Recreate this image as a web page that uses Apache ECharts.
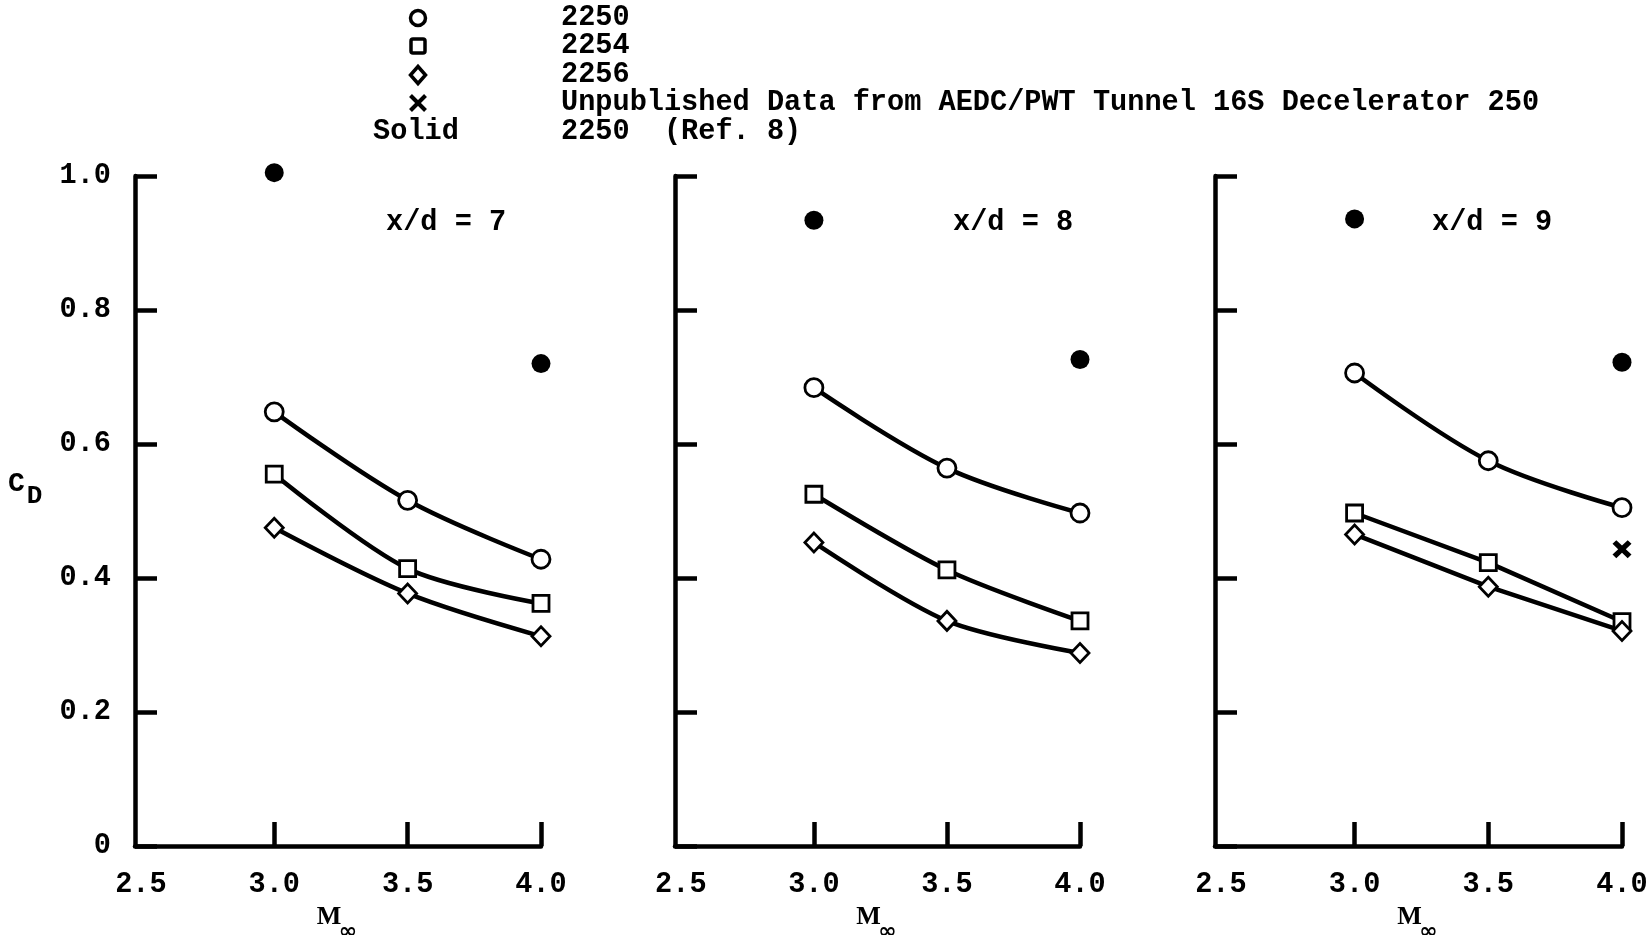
<!DOCTYPE html>
<html>
<head>
<meta charset="utf-8">
<script src="https://cdn.jsdelivr.net/npm/echarts@6/dist/echarts.min.js"></script>
<style>
html,body{margin:0;padding:0;background:#fff;}
#chart{width:1652px;height:935px;}
</style>
</head>
<body>
<div id="chart"></div>
<script>
// ---- data ----
const mach = [3.0, 3.5, 4.0];
const panelTitles = ['x/d = 7', 'x/d = 8', 'x/d = 9'];
const xTickValues = [2.5, 3.0, 3.5, 4.0];
const yTickValues = [0, 0.2, 0.4, 0.6, 0.8, 1.0];
const yTickLabels = ['0', '0.2', '0.4', '0.6', '0.8', '1.0'];

const cd2250 = [
  [0.648, 0.516, 0.428],
  [0.684, 0.564, 0.497],
  [0.706, 0.575, 0.505]
];
const cd2254 = [
  [0.555, 0.414, 0.362],
  [0.525, 0.412, 0.336],
  [0.497, 0.423, 0.335]
];
const cd2256 = [
  [0.475, 0.377, 0.313],
  [0.453, 0.336, 0.288],
  [0.465, 0.387, 0.321]
];
const ref8Mach = [3.0, 4.0];
const cdRef8 = [
  [1.005, 0.720],
  [0.934, 0.726],
  [0.936, 0.722]
];
const aedcMach = [4.0];
const cdAedc = [0.443];   // x/d = 9 only

const legendRows = [
  {sym: 'circle', label: '2250'},
  {sym: 'square', label: '2254'},
  {sym: 'diamond', label: '2256'},
  {sym: 'cross', label: 'Unpublished Data from AEDC/PWT Tunnel 16S Decelerator 250'},
  {sym: 'Solid', label: '2250  (Ref. 8)'}
];

// ---- style ----
const FONT = 'Liberation Mono';
const FS = 28.6;
const INK = '#000';
const crossPath = 'path://M0,4 L4,0 L10,6 L16,0 L20,4 L14,10 L20,16 L16,20 L10,14 L4,20 L0,16 L6,10 Z';

const grids = [
  {left: 135, width: 406, top: 176, height: 670, outerBoundsMode: 'none', containLabel: false},
  {left: 675, width: 405, top: 176, height: 670, outerBoundsMode: 'none', containLabel: false},
  {left: 1215, width: 407, top: 176, height: 670, outerBoundsMode: 'none', containLabel: false}
];

const zip = (xs, ys) => xs.map((x, i) => [x, ys[i]]);

const xAxes = grids.map((g, i) => ({
  type: 'value', gridIndex: i, min: 2.478, max: 4.0,
  axisLine: {show: true, lineStyle: {color: INK, width: 4.5}},
  axisTick: {show: true, inside: true, length: 24, lineStyle: {color: INK, width: 4.5},
    customValues: xTickValues.slice(1)},
  axisLabel: {show: true, margin: 24, color: INK, fontFamily: FONT, fontWeight: 'bold', fontSize: FS,
    customValues: xTickValues, formatter: v => v.toFixed(1)},
  splitLine: {show: false},
  name: '{m|M}\n{s|∞}', nameLocation: 'middle', nameGap: 47,
  nameTextStyle: {
    padding: [0, 18, 0, 0],
    rich: {
      m: {fontFamily: 'Liberation Serif', fontWeight: 'bold', fontSize: 26, color: INK, lineHeight: 20},
      s: {fontFamily: 'DejaVu Sans', fontWeight: 'bold', fontSize: 22, color: INK, lineHeight: 10, padding: [0, 0, 0, 38]}
    }
  }
}));

const yAxes = grids.map((g, i) => ({
  type: 'value', gridIndex: i, min: 0, max: 1.0,
  axisLine: {show: true, lineStyle: {color: INK, width: 4.5}},
  axisTick: {show: true, inside: true, length: 22, lineStyle: {color: INK, width: 4.5},
    customValues: yTickValues},
  axisLabel: {show: i === 0, margin: 24, color: INK, fontFamily: FONT, fontWeight: 'bold', fontSize: FS,
    customValues: yTickValues, formatter: v => yTickLabels[Math.round(v / 0.2)]},
  splitLine: {show: false}
}));

const lineSeries = (data, symbol, size, smooth, i) => ({
  type: 'line', xAxisIndex: i, yAxisIndex: i, data: data,
  smooth: smooth, symbol: symbol, symbolSize: size, showSymbol: true,
  lineStyle: {color: INK, width: 4.5},
  itemStyle: {color: '#fff', borderColor: INK, borderWidth: 2.8, opacity: 1},
  z: 3, animation: false
});

const series = [];
for (let i = 0; i < 3; i++) {
  series.push(lineSeries(zip(mach, cd2250[i]), 'circle', 18, 0.35, i));
  series.push(lineSeries(zip(mach, cd2254[i]), 'rect', 16, i === 2 ? false : 0.3, i));
  series.push(lineSeries(zip(mach, cd2256[i]), 'diamond', [18, 19], i === 2 ? false : 0.3, i));
  series.push({
    type: 'scatter', xAxisIndex: i, yAxisIndex: i, data: zip(ref8Mach, cdRef8[i]),
    symbol: 'circle', symbolSize: 19, itemStyle: {color: INK, opacity: 1}, clip: false, animation: false, z: 4
  });
}
series.push({
  type: 'scatter', xAxisIndex: 2, yAxisIndex: 2, data: zip(aedcMach, cdAedc),
  symbol: crossPath, symbolSize: [19, 18], itemStyle: {color: INK, opacity: 1}, clip: false, animation: false, z: 4
});

// panel titles
const titles = panelTitles.map((t, i) => ({
  text: t, left: [381, 948, 1427][i], top: 203,
  textStyle: {fontFamily: FONT, fontWeight: 'bold', fontSize: FS, color: INK}
}));

// legend block (graphic)
const legendGraphics = [];
const rowY = [18, 46, 75, 103, 132];
const symX = 418;
const legendFont = 'bold ' + FS + 'px "Liberation Mono"';
legendRows.forEach((r, k) => {
  const cy = rowY[k];
  if (r.sym === 'circle') {
    legendGraphics.push({type: 'circle', shape: {cx: symX, cy: cy, r: 7.5},
      style: {fill: '#fff', stroke: INK, lineWidth: 3.5}});
  } else if (r.sym === 'square') {
    legendGraphics.push({type: 'rect', shape: {x: symX - 7, y: cy - 7, width: 14, height: 14, r: 2},
      style: {fill: '#fff', stroke: INK, lineWidth: 3.5}});
  } else if (r.sym === 'diamond') {
    legendGraphics.push({type: 'polygon', shape: {points: [[symX, cy - 8.5], [symX + 7.5, cy], [symX, cy + 8.5], [symX - 7.5, cy]]},
      style: {fill: '#fff', stroke: INK, lineWidth: 3.5}});
  } else if (r.sym === 'cross') {
    legendGraphics.push({type: 'polyline', shape: {points: [[symX - 7.5, cy - 7.5], [symX + 7.5, cy + 7.5]]},
      style: {stroke: INK, lineWidth: 4}});
    legendGraphics.push({type: 'polyline', shape: {points: [[symX + 7.5, cy - 7.5], [symX - 7.5, cy + 7.5]]},
      style: {stroke: INK, lineWidth: 4}});
  } else {
    legendGraphics.push({type: 'text', x: 416, y: cy,
      style: {text: r.sym, font: legendFont, fill: INK, align: 'center', verticalAlign: 'middle'}});
  }
  legendGraphics.push({type: 'text', x: 561, y: cy,
    style: {text: r.label, font: legendFont, fill: INK, align: 'left', verticalAlign: 'middle'}});
});

// C_D axis label
legendGraphics.push({type: 'text', x: 8, y: 459,
  style: {text: '{c|C}{d|D}', fill: INK,
    rich: {c: {fontFamily: 'Liberation Mono', fontWeight: 'bold', fontSize: 28, color: INK},
           d: {fontFamily: 'Liberation Mono', fontWeight: 'bold', fontSize: 26, color: INK, padding: [24, 0, 0, 2]}}}});

const chart = echarts.init(document.getElementById('chart'), null, {renderer: 'canvas'});
chart.setOption({
  backgroundColor: '#fff',
  animation: false,
  title: titles,
  grid: grids,
  xAxis: xAxes,
  yAxis: yAxes,
  series: series,
  graphic: legendGraphics
});
</script>
</body>
</html>
